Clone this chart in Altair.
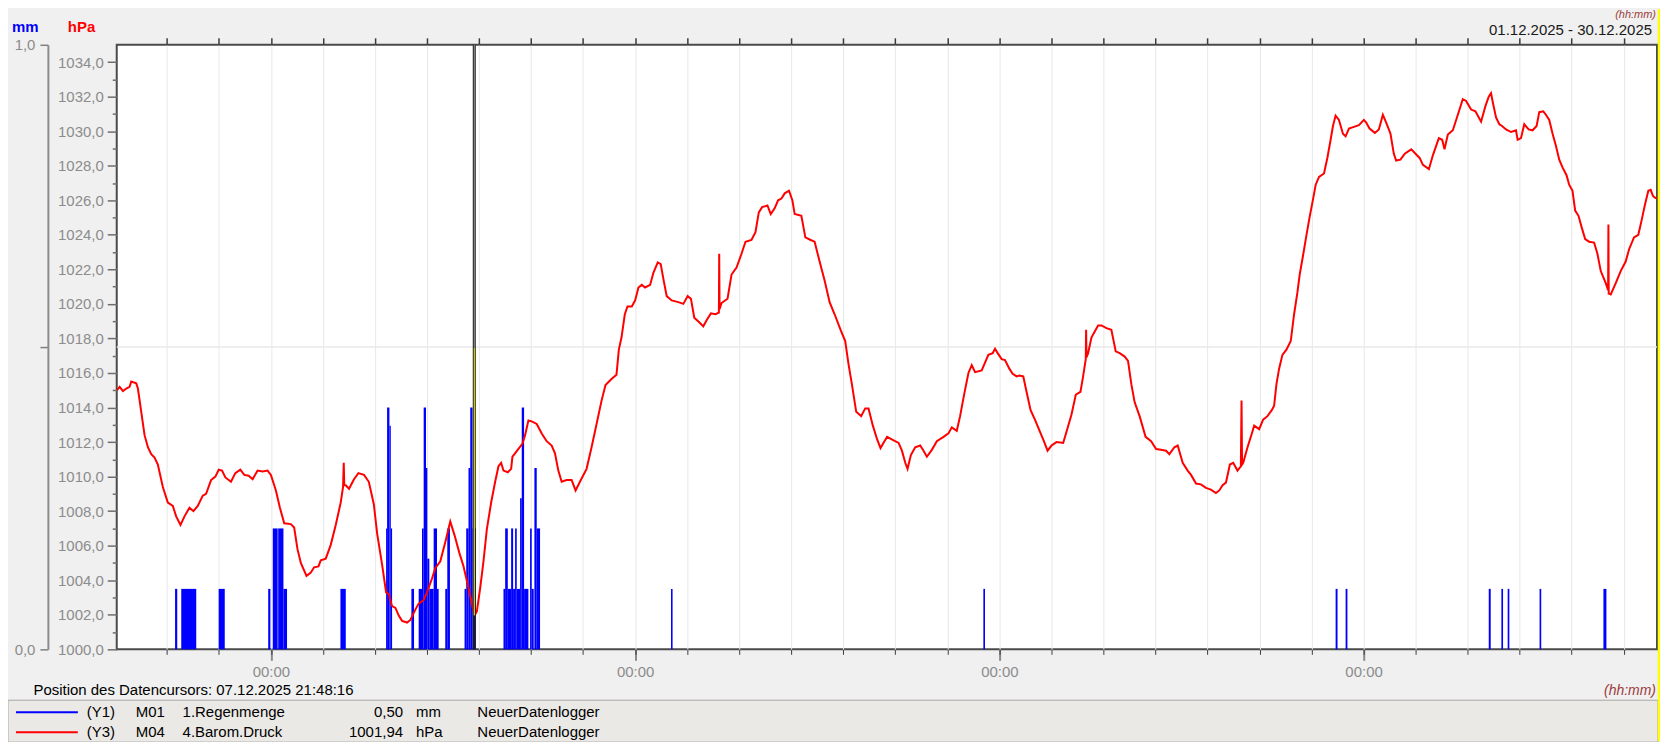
import altair as alt
import pandas as pd

FONT = "Liberation Sans"
BASE = pd.Timestamp("2025-12-01 00:00:00")

# Barometric pressure readings: (days since 01.12.2025 00:00, hPa)
pressure = [
    (0.042, 1015.0), (0.093, 1015.2), (0.157, 1014.95), (0.220, 1015.1), (0.284, 1015.2),
    (0.316, 1015.5), (0.412, 1015.4), (0.444, 1015.1), (0.508, 1013.75), (0.572, 1012.4),
    (0.636, 1011.7), (0.700, 1011.3), (0.764, 1011.1), (0.827, 1010.7), (0.923, 1009.4),
    (1.019, 1008.5), (1.115, 1008.3), (1.179, 1007.7), (1.262, 1007.2), (1.339, 1007.7),
    (1.435, 1008.2), (1.511, 1008.0), (1.594, 1008.3), (1.690, 1008.9), (1.754, 1009.0),
    (1.850, 1009.8), (1.933, 1010.0), (1.997, 1010.4), (2.061, 1010.35), (2.125, 1009.95),
    (2.233, 1009.7), (2.316, 1010.2), (2.412, 1010.4), (2.489, 1010.1), (2.572, 1010.05),
    (2.649, 1009.85), (2.744, 1010.35), (2.840, 1010.3), (2.936, 1010.35), (3.000, 1010.1),
    (3.096, 1009.2), (3.173, 1008.2), (3.256, 1007.3), (3.383, 1007.25), (3.447, 1007.05),
    (3.511, 1005.8), (3.575, 1005.0), (3.684, 1004.25), (3.767, 1004.45), (3.831, 1004.75),
    (3.914, 1004.8), (3.958, 1005.15), (4.054, 1005.25), (4.150, 1006.05), (4.246, 1007.2),
    (4.342, 1008.5), (4.387, 1009.4), (4.400, 1010.8), (4.410, 1009.5), (4.438, 1009.5),
    (4.502, 1009.3), (4.597, 1009.85), (4.681, 1010.2), (4.789, 1010.1), (4.882, 1009.7),
    (4.978, 1008.4), (5.042, 1006.7), (5.137, 1004.9), (5.214, 1003.3), (5.265, 1003.2),
    (5.329, 1002.5), (5.393, 1002.4), (5.457, 1001.95), (5.521, 1001.65), (5.617, 1001.55),
    (5.681, 1001.7), (5.776, 1002.3), (5.840, 1002.65), (5.936, 1002.85), (6.000, 1003.3),
    (6.096, 1004.1), (6.160, 1004.7), (6.256, 1005.1), (6.351, 1006.2), (6.447, 1007.4),
    (6.530, 1006.6), (6.620, 1005.6), (6.703, 1004.8), (6.786, 1003.7), (6.863, 1002.65),
    (6.908, 1001.94), (6.958, 1002.2), (7.022, 1003.55), (7.086, 1005.1), (7.150, 1006.95),
    (7.233, 1008.5), (7.310, 1009.7), (7.374, 1010.6), (7.425, 1010.8), (7.470, 1010.35),
    (7.553, 1010.25), (7.617, 1010.45), (7.642, 1011.15), (7.693, 1011.35), (7.757, 1011.6),
    (7.834, 1011.9), (7.885, 1012.4), (7.949, 1013.25), (8.013, 1013.2), (8.109, 1013.05),
    (8.205, 1012.5), (8.300, 1012.05), (8.396, 1011.8), (8.460, 1011.35), (8.524, 1010.35),
    (8.588, 1009.7), (8.684, 1009.8), (8.780, 1009.8), (8.856, 1009.2), (8.939, 1009.7),
    (9.067, 1010.45), (9.163, 1011.7), (9.259, 1013.05), (9.355, 1014.4), (9.431, 1015.3),
    (9.546, 1015.65), (9.642, 1015.9), (9.687, 1017.35), (9.738, 1018.05), (9.802, 1019.4),
    (9.853, 1019.85), (9.936, 1019.85), (10.000, 1020.2), (10.064, 1020.95), (10.128, 1021.1),
    (10.192, 1020.95), (10.288, 1021.1), (10.351, 1021.8), (10.435, 1022.4), (10.492, 1022.3),
    (10.543, 1021.45), (10.607, 1020.45), (10.703, 1020.2), (10.831, 1020.1), (10.927, 1020.0),
    (11.010, 1020.45), (11.073, 1020.3), (11.137, 1019.2), (11.227, 1018.95), (11.310, 1018.7),
    (11.374, 1019.05), (11.457, 1019.45), (11.546, 1019.4), (11.610, 1019.5), (11.616, 1022.9),
    (11.623, 1019.7), (11.661, 1020.05), (11.776, 1020.3), (11.853, 1021.7), (11.949, 1022.1),
    (12.045, 1022.9), (12.121, 1023.6), (12.236, 1023.7), (12.313, 1024.15), (12.377, 1025.3),
    (12.441, 1025.6), (12.543, 1025.7), (12.607, 1025.2), (12.684, 1025.55), (12.748, 1026.0),
    (12.812, 1026.1), (12.875, 1026.4), (12.958, 1026.55), (13.022, 1026.0), (13.067, 1025.2),
    (13.195, 1025.1), (13.272, 1023.85), (13.374, 1023.7), (13.450, 1023.6), (13.546, 1022.45),
    (13.642, 1021.35), (13.738, 1020.1), (13.834, 1019.4), (13.949, 1018.5), (14.038, 1017.85),
    (14.102, 1016.5), (14.166, 1015.35), (14.249, 1013.75), (14.345, 1013.5), (14.422, 1013.95),
    (14.486, 1013.95), (14.569, 1012.95), (14.652, 1012.15), (14.716, 1011.65), (14.792, 1012.05),
    (14.843, 1012.3), (14.968, 1012.1), (15.064, 1011.95), (15.128, 1011.5), (15.192, 1010.8),
    (15.236, 1010.45), (15.300, 1011.25), (15.383, 1011.7), (15.479, 1011.8), (15.543, 1011.5),
    (15.607, 1011.15), (15.703, 1011.55), (15.799, 1012.05), (15.927, 1012.3), (16.022, 1012.5),
    (16.086, 1012.85), (16.182, 1012.65), (16.246, 1013.5), (16.323, 1014.75), (16.406, 1016.0),
    (16.470, 1016.45), (16.534, 1016.05), (16.661, 1016.15), (16.725, 1016.6), (16.789, 1017.05),
    (16.872, 1017.15), (16.917, 1017.4), (16.968, 1017.15), (17.045, 1016.8), (17.109, 1016.75),
    (17.192, 1016.25), (17.256, 1015.95), (17.332, 1015.8), (17.383, 1015.85), (17.460, 1015.8),
    (17.524, 1014.9), (17.601, 1013.85), (17.684, 1013.3), (17.780, 1012.6), (17.856, 1012.05),
    (17.927, 1011.5), (18.003, 1011.8), (18.099, 1012.0), (18.227, 1011.95), (18.291, 1012.6),
    (18.387, 1013.6), (18.470, 1014.75), (18.559, 1014.9), (18.610, 1015.8), (18.661, 1016.8),
    (18.668, 1018.5), (18.675, 1016.9), (18.706, 1017.15), (18.770, 1018.05), (18.834, 1018.4),
    (18.898, 1018.75), (18.962, 1018.75), (19.058, 1018.6), (19.153, 1018.5), (19.237, 1017.25),
    (19.313, 1017.15), (19.409, 1016.95), (19.473, 1016.7), (19.537, 1015.35), (19.601, 1014.3),
    (19.696, 1013.5), (19.811, 1012.3), (19.917, 1012.05), (20.013, 1011.6), (20.109, 1011.55),
    (20.204, 1011.5), (20.268, 1011.3), (20.364, 1011.7), (20.428, 1011.8), (20.524, 1010.8),
    (20.620, 1010.35), (20.684, 1010.1), (20.780, 1009.6), (20.875, 1009.55), (20.971, 1009.35),
    (21.067, 1009.25), (21.163, 1009.05), (21.227, 1009.2), (21.291, 1009.5), (21.355, 1009.65),
    (21.431, 1010.7), (21.495, 1010.8), (21.578, 1010.35), (21.642, 1010.6), (21.655, 1014.4),
    (21.665, 1010.7), (21.687, 1010.8), (21.770, 1011.7), (21.853, 1012.5), (21.898, 1012.95),
    (21.994, 1012.75), (22.070, 1013.3), (22.153, 1013.5), (22.236, 1013.85), (22.281, 1014.1),
    (22.326, 1015.35), (22.377, 1016.25), (22.441, 1017.05), (22.518, 1017.35), (22.601, 1017.85),
    (22.665, 1019.4), (22.728, 1020.65), (22.773, 1021.7), (22.837, 1022.8), (22.901, 1023.95),
    (22.965, 1025.05), (23.016, 1025.85), (23.080, 1026.9), (23.144, 1027.35), (23.240, 1027.55),
    (23.304, 1028.45), (23.367, 1029.5), (23.412, 1030.3), (23.463, 1030.9), (23.527, 1030.65),
    (23.604, 1029.85), (23.655, 1029.7), (23.719, 1030.15), (23.815, 1030.25), (23.911, 1030.35),
    (24.006, 1030.65), (24.051, 1030.5), (24.115, 1030.15), (24.217, 1029.9), (24.294, 1030.1),
    (24.371, 1030.95), (24.435, 1030.5), (24.518, 1029.85), (24.581, 1028.7), (24.626, 1028.3),
    (24.709, 1028.35), (24.792, 1028.7), (24.917, 1028.95), (25.013, 1028.65), (25.077, 1028.45),
    (25.141, 1028.05), (25.256, 1027.8), (25.332, 1028.6), (25.447, 1029.6), (25.511, 1029.5),
    (25.556, 1028.95), (25.620, 1029.8), (25.716, 1030.05), (25.812, 1030.95), (25.907, 1031.85),
    (25.971, 1031.75), (26.067, 1031.25), (26.150, 1031.15), (26.259, 1030.55), (26.342, 1031.45),
    (26.406, 1032.0), (26.450, 1032.2), (26.482, 1031.7), (26.546, 1030.8), (26.610, 1030.4),
    (26.661, 1030.3), (26.738, 1030.1), (26.834, 1029.95), (26.930, 1030.05), (26.962, 1029.5),
    (27.026, 1029.6), (27.089, 1030.4), (27.173, 1030.1), (27.249, 1030.05), (27.326, 1030.3),
    (27.377, 1031.1), (27.454, 1031.15), (27.505, 1030.95), (27.569, 1030.65), (27.633, 1029.85),
    (27.697, 1029.15), (27.761, 1028.35), (27.824, 1027.9), (27.901, 1027.45), (27.952, 1026.9),
    (28.016, 1026.55), (28.067, 1025.4), (28.131, 1025.1), (28.195, 1024.4), (28.259, 1023.75),
    (28.335, 1023.6), (28.431, 1023.55), (28.495, 1022.9), (28.559, 1021.9), (28.655, 1021.2),
    (28.700, 1020.8), (28.706, 1024.6), (28.712, 1020.6), (28.751, 1020.55), (28.847, 1021.2),
    (28.942, 1021.9), (29.038, 1022.45), (29.102, 1023.15), (29.198, 1023.85), (29.281, 1024.0),
    (29.345, 1024.85), (29.409, 1025.75), (29.473, 1026.55), (29.518, 1026.6), (29.562, 1026.25),
    (29.601, 1026.15), (29.640, 1026.1),
]

# Rain amounts: (start day, end day, mm)
rain = [
    (1.158, 1.200, 0.1), (1.277, 1.565, 0.1), (1.996, 2.113, 0.1), (2.948, 2.990, 0.1),
    (3.036, 3.130, 0.2), (3.140, 3.241, 0.2), (3.241, 3.310, 0.1), (4.336, 4.439, 0.1),
    (5.214, 5.233, 0.2), (5.233, 5.278, 0.4), (5.278, 5.304, 0.37), (5.304, 5.329, 0.2),
    (5.700, 5.751, 0.1), (5.840, 5.904, 0.1), (5.904, 5.936, 0.2), (5.936, 5.981, 0.4),
    (5.981, 6.006, 0.3), (6.006, 6.045, 0.15), (6.045, 6.128, 0.1), (6.128, 6.192, 0.2),
    (6.192, 6.224, 0.1), (6.351, 6.390, 0.1), (6.390, 6.441, 0.2), (6.722, 6.754, 0.1),
    (6.754, 6.798, 0.2), (6.798, 6.831, 0.3), (6.831, 6.875, 0.4), (6.875, 6.939, 0.2),
    (7.470, 7.502, 0.1), (7.502, 7.553, 0.2), (7.553, 7.617, 0.1), (7.617, 7.655, 0.2),
    (7.655, 7.693, 0.1), (7.693, 7.725, 0.2), (7.725, 7.789, 0.1), (7.789, 7.821, 0.25),
    (7.821, 7.866, 0.4), (7.866, 7.949, 0.1), (7.981, 8.013, 0.2), (8.013, 8.051, 0.1),
    (8.064, 8.109, 0.3), (8.109, 8.173, 0.2),
    (10.690, 10.720, 0.1), (16.693, 16.725, 0.1), (23.463, 23.500, 0.1), (23.655, 23.690, 0.1),
    (26.406, 26.444, 0.1), (26.649, 26.681, 0.1), (26.770, 26.802, 0.1), (27.383, 27.415, 0.1),
    (28.610, 28.668, 0.1),
]

cursor_day = 6.9085          # 07.12.2025 21:48:16
view_start_day = 0.037
view_end_day = 29.64
major_dates = [4, 11, 18, 25]        # December days with 00:00 label
minor_dates = list(range(2, 31))     # daily ticks
hpa_major = list(range(1000, 1035, 2))
hpa_minor = list(range(1001, 1035, 2))
mm_ticks = [0.0, 0.5, 1.0]


def ts(day):
    return (BASE + pd.Timedelta(days=day)).round("s")


def dt(day):
    t = ts(day)
    return alt.DateTime(year=t.year, month=t.month, date=t.day,
                        hours=t.hour, minutes=t.minute, seconds=t.second)


def dec(d):
    return alt.DateTime(year=2025, month=12, date=d, hours=0, minutes=0)


pdf = pd.DataFrame(pressure, columns=["day", "hpa"])
pdf["time"] = (BASE + pd.to_timedelta(pdf["day"], unit="D")).dt.round("s")

rdf = pd.DataFrame(rain, columns=["s", "e", "mm"])
rdf["start"] = (BASE + pd.to_timedelta(rdf["s"], unit="D")).dt.round("s")
rdf["end"] = (BASE + pd.to_timedelta(rdf["e"], unit="D")).dt.round("s")
rdf["base"] = 0.0

cdf = pd.DataFrame({"time": [ts(cursor_day)]})

xscale = alt.Scale(domain=[dt(view_start_day), dt(view_end_day)], nice=False)
hpa_scale = alt.Scale(domain=[1000, 1035], nice=False, zero=False)
mm_scale = alt.Scale(domain=[0, 1], nice=False, zero=False)

GRAYLBL = "#8c8c8c"
fmt_expr = "replace(format(datum.value, '.1f'), '.', ',')"

# --- rain bars (with major bottom axis + mm axis)
rain_layer = alt.Chart(rdf).mark_rect(color="#0000ff").encode(
    x=alt.X("start:T", scale=xscale,
            axis=alt.Axis(orient="bottom", values=[dec(d) for d in major_dates],
                          tickSize=11, tickColor="#8a8a8a", tickWidth=2,
                          labelExpr="'00:00'", labelFont=FONT, labelFontSize=15,
                          labelColor=GRAYLBL, labelPadding=4, domain=False,
                          grid=False, title=None)),
    x2="end:T",
    y=alt.Y("mm:Q", scale=mm_scale,
            axis=alt.Axis(orient="left", offset=69, values=mm_ticks, tickSize=8,
                          tickColor="#808080", tickWidth=1.5, domain=True,
                          domainColor="#8c8c8c", domainWidth=2,
                          labelExpr="datum.value == 0.5 ? '' : " + fmt_expr,
                          labelFont=FONT, labelFontSize=15, labelColor=GRAYLBL,
                          labelPadding=5, grid=False, title=None)),
    y2="base:Q",
)

# --- 0.5 mm horizontal grid line
mid_grid = alt.Chart(pd.DataFrame({"v": [0.5]})).mark_rule(
    color="#e8e8e8", strokeWidth=1.5).encode(
    y=alt.Y("v:Q", scale=mm_scale, axis=None))

# --- pressure line (minor bottom ticks + daily grid + hPa axis)
pressure_layer = alt.Chart(pdf).mark_line(color="#ff0000", strokeWidth=2).encode(
    x=alt.X("time:T", scale=xscale,
            axis=alt.Axis(orient="bottom", values=[dec(d) for d in minor_dates],
                          tickSize=5, tickColor="#3c3c3c", tickWidth=1,
                          labels=False, domain=False, grid=True,
                          gridColor="#e8e8e8", gridWidth=1, title=None)),
    y=alt.Y("hpa:Q", scale=hpa_scale,
            axis=alt.Axis(orient="left", values=hpa_major, tickSize=9.5,
                          tickColor="#6e6e6e", tickWidth=1.5, labelExpr=fmt_expr,
                          labelFont=FONT, labelFontSize=15, labelColor=GRAYLBL,
                          labelPadding=4, domain=False, grid=False, title=None)),
)

# --- invisible layer carrying top ticks and minor hPa ticks
minor_layer = alt.Chart(pdf).mark_line(opacity=0).encode(
    x=alt.X("time:T", scale=xscale,
            axis=alt.Axis(orient="top", values=[dec(d) for d in minor_dates],
                          tickSize=7, tickColor="#3c3c3c", tickWidth=1.5,
                          labels=False, domain=False, grid=False, title=None)),
    y=alt.Y("hpa:Q", scale=hpa_scale,
            axis=alt.Axis(orient="left", values=hpa_minor, tickSize=4.5,
                          tickColor="#6e6e6e", tickWidth=1.5, labels=False,
                          domain=False, grid=False, title=None)),
)

# --- data cursor
cursor = alt.Chart(cdf).mark_rule(color="#1e1e1e", strokeWidth=3).encode(
    x=alt.X("time:T", scale=xscale, axis=None))
cursor_light = alt.Chart(cdf).mark_rule(color="#9a9a9a", strokeWidth=1).encode(
    x=alt.X("time:T", scale=xscale, axis=None), y=alt.value(0), y2=alt.value(304))
cursor_yellow = alt.Chart(cdf).mark_rule(color="#ffff00", strokeWidth=1).encode(
    x=alt.X("time:T", scale=xscale, axis=None), y=alt.value(304), y2=alt.value(572))


def txt(s, x, y, color="#000000", size=15, align="left", baseline="middle",
        weight="normal", style="normal"):
    return alt.Chart(pd.DataFrame({"s": [s]})).mark_text(
        align=align, baseline=baseline, font=FONT, fontSize=size, color=color,
        fontWeight=weight, fontStyle=style).encode(
        text="s:N", x=alt.value(x), y=alt.value(y))


one = pd.DataFrame({"a": [0]})
legend_box = alt.Chart(one).mark_rect(fill="#ebe9e6", stroke="#a8a8a8", strokeWidth=1).encode(
    x=alt.value(-109), x2=alt.value(1545), y=alt.value(657), y2=alt.value(699))
leg_blue = alt.Chart(one).mark_rule(color="#0000ff", strokeWidth=2).encode(
    x=alt.value(-101), x2=alt.value(-39), y=alt.value(669))
leg_red = alt.Chart(one).mark_rule(color="#ff0000", strokeWidth=2).encode(
    x=alt.value(-101), x2=alt.value(-39), y=alt.value(689))
yellow_edge = alt.Chart(one).mark_rule(color="#ffff00", strokeWidth=2.5).encode(
    x=alt.value(1546), y=alt.value(-36), y2=alt.value(698))

MAROON = "#9b3b3b"
texts = [
    txt("mm", -105, -18, color="#0000ff", weight="bold"),
    txt("hPa", -49, -18, color="#ff0000", weight="bold"),
    txt("01.12.2025 - 30.12.2025", 1539, -15, color="#1a1a1a", align="right"),
    txt("(hh:mm)", 1543, -36, color=MAROON, size=11, align="right", baseline="top",
        style="italic"),
    txt("Position des Datencursors: 07.12.2025 21:48:16", -83.5, 647),
    txt("(hh:mm)", 1543, 648, color=MAROON, size=14, align="right", style="italic"),
    txt("(Y1)", -30, 669), txt("M01", 19, 669), txt("1.Regenmenge", 66, 669),
    txt("0,50", 287, 669, align="right"), txt("mm", 300, 669),
    txt("NeuerDatenlogger", 361.5, 669),
    txt("(Y3)", -30, 689), txt("M04", 19, 689), txt("4.Barom.Druck", 66, 689),
    txt("1001,94", 287, 689, align="right"), txt("hPa", 300, 689),
    txt("NeuerDatenlogger", 361.5, 689),
]

chart = alt.layer(
    mid_grid, rain_layer, pressure_layer, minor_layer,
    cursor, cursor_light, cursor_yellow,
    legend_box, leg_blue, leg_red, yellow_edge, *texts,
).resolve_scale(
    y="independent"
).resolve_axis(
    x="independent", y="independent"
).properties(
    width=1544, height=606,
    autosize=alt.AutoSizeParams(type="none"),
    padding={"left": 109, "top": 36, "right": 3, "bottom": 92},
).configure(
    background="#f0f0f0",
).configure_view(
    stroke="#4a4a4a", strokeWidth=2, fill="#ffffff",
)

chart.save("out.html", embed_options={"renderer": "svg", "actions": False})
